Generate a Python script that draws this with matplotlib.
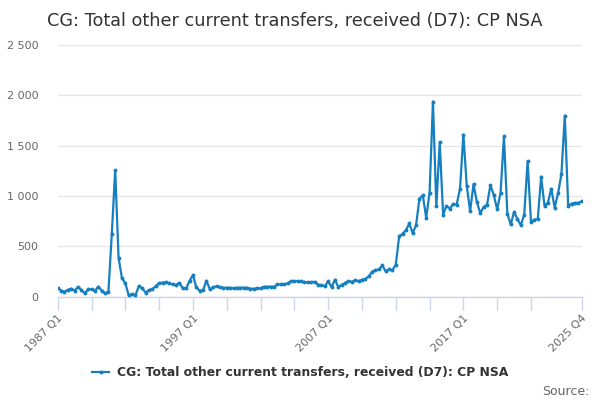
import matplotlib
matplotlib.use("Agg")
import matplotlib.pyplot as plt
from matplotlib.ticker import FuncFormatter, FixedLocator

# Quarterly data 1987 Q1 .. 2025 Q4
start_year = 1987
values = [
    90, 60, 50, 67, 80, 60, 97, 67, 33, 73, 73, 57, 100, 60, 33, 50,
    623, 1257, 387, 183, 133, 13, 27, 13, 107, 83, 40, 67,
    75, 105, 135, 140, 142, 132, 122, 115, 139, 82, 82, 158, 214, 92, 59, 66,
    158, 73, 92, 105, 92, 89, 89, 89, 82, 89, 89,
    89, 89, 79, 79, 82, 82, 99, 99, 99, 99, 122, 122, 122, 132, 155, 155, 155,
    155, 145, 142, 145, 148, 119, 115, 105,
    152, 95, 169, 95, 118, 135, 155, 149, 162, 155, 169, 176, 203, 247, 264,
    270, 311, 253, 270, 264, 318, 598, 625, 659, 727,
    630, 710, 974, 1007, 783, 1033, 1938, 898, 1533, 816, 901, 875, 921, 914,
    1072, 1609, 1099, 849, 1118, 941, 829, 891, 913, 1108,
    1007, 868, 1033, 1592, 826, 717, 842, 770, 710, 816, 1345, 743, 766, 770,
    1191, 901, 934, 1072, 885, 1026, 1217, 1799, 901, 924, 931, 931, 947,
]
categories = [f"{start_year + i // 4} Q{i % 4 + 1}" for i in range(len(values))]
tick_idx = list(range(0, 141, 10)) + [155]
label_idx = [0, 40, 80, 120, 155]
yticks = [0, 500, 1000, 1500, 2000, 2500]

title = "CG: Total other current transfers, received (D7): CP NSA"
series_name = "CG: Total other current transfers, received (D7): CP NSA"

color = "#157fc0"
axis_col = "#ccd6eb"
text_col = "#666666"

fig = plt.figure(figsize=(6, 4), dpi=100)
ax = fig.add_axes([0.0962, 0.2583, 0.8733, 0.6292])

x = list(range(len(values)))
line, = ax.plot(x, values, color=color, lw=1.6, marker="o", ms=2.8,
                markeredgewidth=0, zorder=3)

ax.set_xlim(0, len(values) - 1)
ax.set_ylim(0, 2500)
ax.set_yticks(yticks)
ax.yaxis.set_major_formatter(FuncFormatter(lambda v, p: f"{int(v):,}".replace(",", " ")))
ax.grid(axis="y", color="#e6e6e6", lw=1)
ax.set_axisbelow(True)

ax.xaxis.set_major_locator(FixedLocator(tick_idx))
ax.set_xticklabels([categories[i] if i in label_idx else "" for i in tick_idx],
                   rotation=45, ha="right", rotation_mode="anchor")

for s in ["top", "right", "left"]:
    ax.spines[s].set_visible(False)
ax.spines["bottom"].set_color(axis_col)
ax.spines["bottom"].set_linewidth(1)
ax.tick_params(axis="x", length=9, width=1, color=axis_col, colors=text_col,
               labelsize=8, pad=3)
ax.tick_params(axis="x", color=axis_col)
ax.tick_params(axis="y", length=0, labelcolor=text_col, labelsize=8, pad=14)

fig.text(0.078, 0.948, title, fontsize=12.7, color="#333333", va="center", ha="left")

leg = fig.legend([line], [series_name], loc="center", bbox_to_anchor=(0.5, 0.068),
                 frameon=False, prop={"size": 8.9, "weight": "bold"},
                 handlelength=1.4, handletextpad=0.6)
for t in leg.get_texts():
    t.set_color("#333333")

fig.text(0.982, 0.022, "Source:", fontsize=9, color=text_col, ha="right", va="center")

fig.savefig("out.png", dpi=100)
